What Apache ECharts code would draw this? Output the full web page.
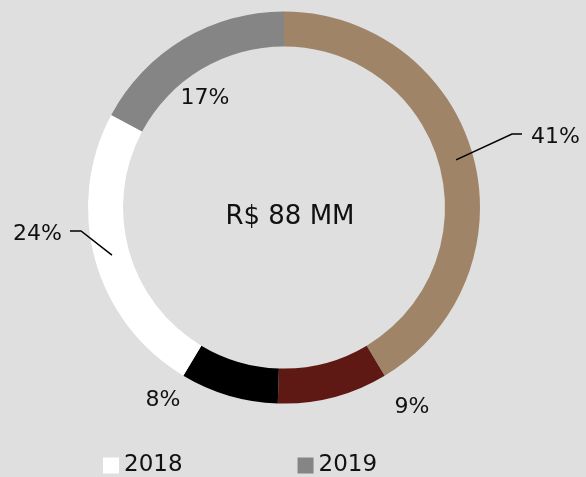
<!DOCTYPE html>
<html>
<head>
<meta charset="utf-8">
<script src="https://cdn.jsdelivr.net/npm/echarts@6/dist/echarts.min.js"></script>
<style>
  html, body { margin: 0; padding: 0; background: #dfdfdf; }
  #chart { width: 586px; height: 477px; }
</style>
</head>
<body>
<div id="chart"></div>
<script>
// slices, clockwise from 12 o'clock
const names = ["2015", "2016", "2017", "2018", "2019"];
const shares = [41, 9, 8, 24, 17];
const colors = ["#a08468", "#5f1914", "#000000", "#ffffff", "#858585"];
const legendNames = ["2018", "2019"];
const totalLabel = "R$ 88 MM";

const cx = 284, cy = 207.5, rIn = 161, rOut = 196;

// where each percentage label sits; elbow/end of its leader line, if any
const labelSpots = [
  { x: 531, y: 137, align: "left", elbow: [512, 134], end: [522, 134] },
  { x: 412, y: 407, align: "center" },
  { x: 163, y: 400, align: "center" },
  { x: 62, y: 234, align: "right", elbow: [81, 231], end: [70, 231] },
  { x: 205, y: 98, align: "center" },
];

const font = "DejaVu Sans";

// leader lines start in the middle of the ring at each slice's mid angle
const total = shares.reduce((a, b) => a + b, 0);
let acc = 0;
const leaderLines = [];
shares.forEach((v, i) => {
  const mid = ((acc + v / 2) / total) * Math.PI * 2;
  acc += v;
  const s = labelSpots[i];
  if (!s.elbow) return;
  const rm = (rIn + rOut) / 2;
  const start = [cx + rm * Math.sin(mid), cy - rm * Math.cos(mid)];
  leaderLines.push({
    type: "polyline",
    z: 10,
    silent: true,
    shape: { points: [start, s.elbow, s.end] },
    style: { stroke: "#000", lineWidth: 1.5, fill: null },
  });
});

const chart = echarts.init(document.getElementById("chart"));

chart.setOption({
  backgroundColor: "#dfdfdf",
  animation: false,
  title: {
    text: totalLabel,
    left: 285,
    top: 212,
    textAlign: "center",
    textVerticalAlign: "middle",
    textStyle: { fontFamily: font, fontSize: 26, fontWeight: "normal", color: "#111" },
  },
  legend: {
    data: legendNames,
    left: 98,
    top: 449,
    itemWidth: 16,
    itemHeight: 16,
    itemGap: 115,
    icon: "rect",
    textStyle: { fontFamily: font, fontSize: 23, color: "#111" },
  },
  graphic: leaderLines,
  series: [
    {
      type: "pie",
      center: [cx, cy],
      radius: [rIn, rOut],
      startAngle: 90,
      clockwise: true,
      silent: true,
      itemStyle: { borderWidth: 0 },
      label: {
        show: true,
        position: "outside",
        formatter: "{c}%",
        fontFamily: font,
        fontSize: 22,
        color: "#111",
        overflow: "none",
      },
      labelLine: { show: false },
      labelLayout(params) {
        const s = labelSpots[params.dataIndex];
        return { x: s.x, y: s.y, align: s.align, verticalAlign: "middle" };
      },
      data: names.map((n, i) => ({
        name: n,
        value: shares[i],
        itemStyle: { color: colors[i] },
      })),
    },
  ],
});
</script>
</body>
</html>
